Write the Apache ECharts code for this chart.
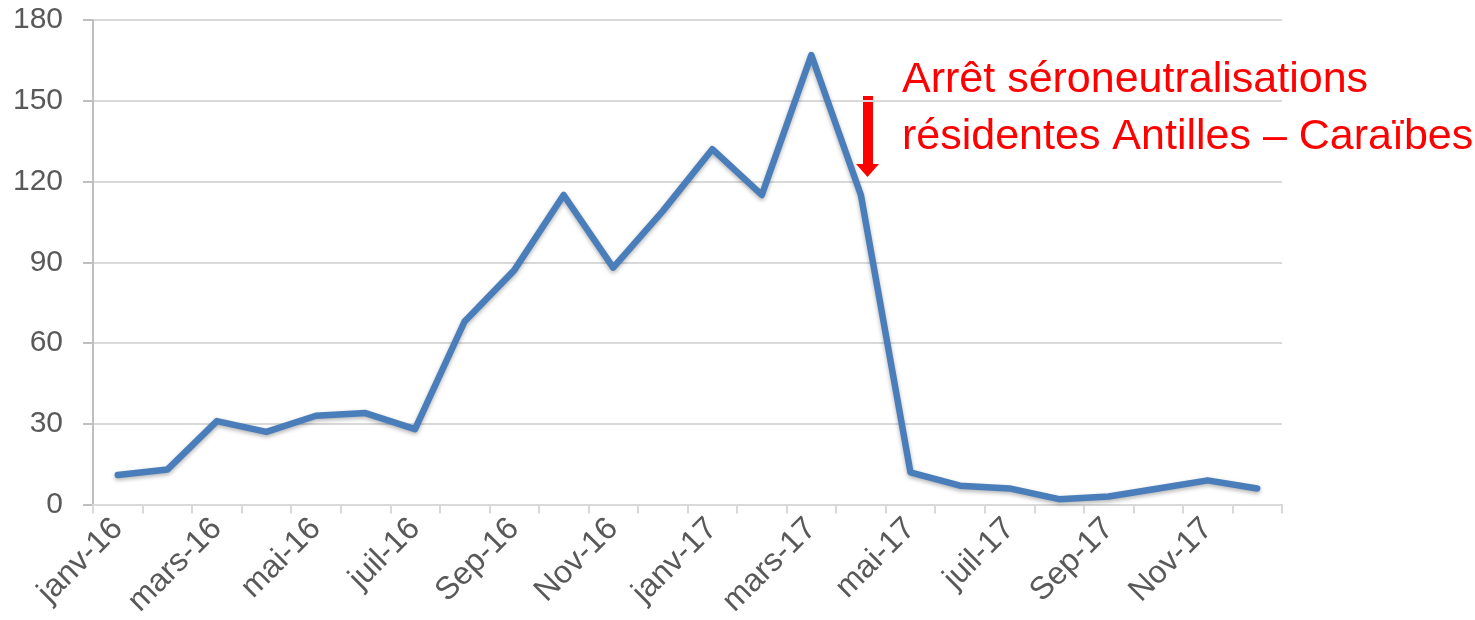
<!DOCTYPE html>
<html>
<head>
<meta charset="utf-8">
<script src="https://cdn.jsdelivr.net/npm/echarts@6/dist/echarts.min.js"></script>
<style>
html,body{margin:0;padding:0;background:#fff;}
#chart{width:1475px;height:620px;}
</style>
</head>
<body>
<div id="chart"></div>
<script>
const categories = ['janv-16','févr-16','mars-16','avr-16','mai-16','juin-16','juil-16','août-16','Sep-16','oct-16','Nov-16','déc-16',
                    'janv-17','févr-17','mars-17','avr-17','mai-17','juin-17','juil-17','août-17','Sep-17','oct-17','Nov-17','déc-17'];
const values = [11,13,31,27,33,34,28,68,87,115,88,109,132,115,167,115,12,7,6,2,3,6,9,6];
const yTicks = [0,30,60,90,120,150,180];
const annotationLines = ['Arrêt séroneutralisations','résidentes Antilles – Caraïbes'];

const chart = echarts.init(document.getElementById('chart'));
const font = '"Liberation Sans", Arial, sans-serif';
chart.setOption({
  animation:false,
  backgroundColor:'#ffffff',
  grid:{left:93,right:193,top:20,bottom:114,containLabel:false},
  xAxis:{
    type:'category',
    data:categories,
    boundaryGap:true,
    axisLine:{show:true,lineStyle:{color:'#d9d9d9',width:2}},
    axisTick:{show:true,alignWithLabel:false,interval:0,length:9,lineStyle:{color:'#d9d9d9',width:2}},
    axisLabel:{interval:1,rotate:45,margin:19,color:'#595959',fontSize:32,fontFamily:font},
    splitLine:{show:false}
  },
  yAxis:{
    type:'value',
    min:yTicks[0],max:yTicks[yTicks.length-1],interval:30,
    axisLine:{show:true,lineStyle:{color:'#bfbfbf',width:2}},
    axisTick:{show:true,length:10,lineStyle:{color:'#bfbfbf',width:2}},
    axisLabel:{margin:30,color:'#595959',fontSize:30,fontFamily:font},
    splitLine:{show:true,lineStyle:{color:'#d9d9d9',width:2}}
  },
  series:[{
    type:'line',
    data:values,
    symbol:'none',
    smooth:false,
    lineStyle:{color:'#4a7ebb',width:6.5,cap:'round',join:'round',
      shadowColor:'rgba(0,0,0,0.3)',shadowBlur:4,shadowOffsetY:2}
  }],
  graphic:[
    {type:'text',left:902,top:52,style:{text:annotationLines.join('\n'),fill:'#ff0000',font:'43px "Liberation Sans", Arial, sans-serif',lineHeight:57}},
    {type:'rect',shape:{x:863,y:96,width:10,height:69},style:{fill:'#ff0000'}},
    {type:'polygon',shape:{points:[[856,164],[879,164],[867.5,177]]},style:{fill:'#ff0000'}}
  ]
});
</script>
</body>
</html>
